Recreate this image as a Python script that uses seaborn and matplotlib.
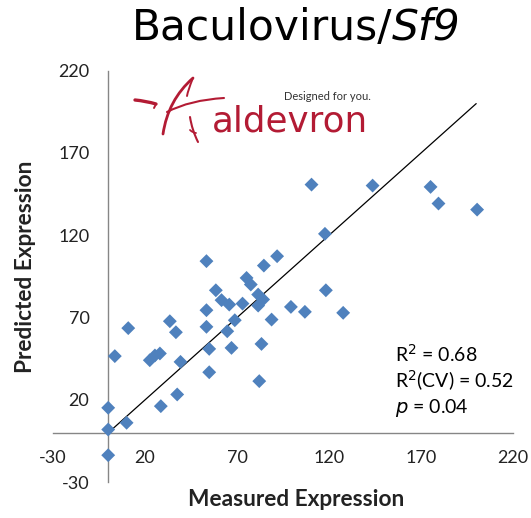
import numpy as np
import pandas as pd
import matplotlib
matplotlib.use("Agg")
import matplotlib.pyplot as plt
import seaborn as sns
from matplotlib.path import Path
from matplotlib.patches import PathPatch

# ---- data ----
measured = [110.5, 143.7, 175.2, 179.5, 200.5, 117.8, 53.4, 91.8, 84.6, 75.2,
            77.5, 58.5, 118.3, 81.5, 61.6, 65.8, 73.0, 84.2, 81.5, 53.4,
            99.3, 106.9, 127.7, 33.5, 68.8, 88.8, 10.9, 36.8, 53.4, 64.7,
            83.3, 54.9, 67.0, 3.6, 22.6, 25.4, 28.1, 39.3, 54.9, 82.1,
            37.5, 28.6, 0.0, 10.0, 0.0, 0.0]
predicted = [150.8, 150.2, 149.4, 139.3, 135.6, 120.9, 104.3, 107.3, 101.6, 94.1,
             90.1, 86.6, 86.6, 84.0, 80.6, 77.9, 78.5, 81.0, 77.3, 74.5,
             76.5, 73.5, 72.9, 67.8, 68.4, 68.8, 63.6, 61.1, 64.4, 61.7,
             54.0, 51.0, 51.6, 46.6, 44.1, 47.0, 48.2, 43.1, 36.8, 31.4,
             23.3, 16.2, 15.2, 6.1, 2.0, -13.6]
fit_x = [0, 200]
fit_y = [0, 200]
ticks = [-30, 20, 70, 120, 170, 220]
title_main = "Baculovirus/"
title_ital = "Sf9"
xlabel = "Measured Expression"
ylabel = "Predicted Expression"
stats = ["R$^2$ = 0.68", "R$^2$(CV) = 0.52", "$p$ = 0.04"]

df = pd.DataFrame({"Measured": measured, "Predicted": predicted})

W, H = 531, 518
sns.set_style("white")
plt.rcParams["font.family"] = ["Lato", "DejaVu Sans"]
fig = plt.figure(figsize=(W / 100, H / 100), dpi=100)

def fx(px):
    return px / W

def fy(py):
    return 1 - py / H

ax = fig.add_axes([fx(53), fy(482.2), (513 - 53) / W, (482.2 - 70.7) / H])
ax.set_facecolor("none")

gray = "#868686"
sns.scatterplot(data=df, x="Measured", y="Predicted", marker="D", s=50,
                color="#4F81BD", edgecolor="none", ax=ax, zorder=3, legend=False)
sns.lineplot(x=fit_x, y=fit_y, color="black", lw=0.9, ax=ax, zorder=2)

ax.set_xlim(-30, 220)
ax.set_ylim(-30, 220)
ax.set_xticks(ticks)
ax.set_yticks(ticks)
ax.set_xticklabels([str(t) for t in ticks])
ax.set_yticklabels([str(t) for t in ticks])
for s in ["top", "right"]:
    ax.spines[s].set_visible(False)
ax.spines["left"].set_position(("data", 0))
ax.spines["bottom"].set_position(("data", 0))
for s in ["left", "bottom"]:
    ax.spines[s].set_color(gray)
    ax.spines[s].set_linewidth(1.0)
ax.tick_params(axis="both", direction="out", length=4.5, width=1.0, color=gray,
               labelsize=13, labelcolor="#222222")
ax.tick_params(axis="y", pad=9)
ax.tick_params(axis="x", pad=8)
ax.set_xlabel("")
ax.set_ylabel("")

# axis labels
fig.text(fx(296), fy(500), xlabel, ha="center", va="center", fontsize=16.3,
         fontweight="bold", color="#222222")
fig.text(fx(26), fy(267), ylabel, ha="center", va="center", fontsize=16.3,
         fontweight="bold", color="#222222", rotation=90)

renderer = fig.canvas.get_renderer()

def fit_width(txt, target):
    w = txt.get_window_extent(renderer).width
    txt.set_fontsize(txt.get_fontsize() * target / w)

# title (centred on the reference's title centre)
tfam = ["DejaVu Sans"]
tsize = 30.5
t1 = fig.text(0, fy(28), title_main, ha="left", va="center", fontsize=tsize,
              color="black", family=tfam)
t2 = fig.text(0, fy(28), title_ital, ha="left", va="center", fontsize=tsize,
              color="black", style="italic", family=tfam)
w1 = t1.get_window_extent(renderer).width
w2 = t2.get_window_extent(renderer).width
x0 = 296 - (w1 + w2) / 2
t1.set_x(fx(x0))
t2.set_x(fx(x0 + w1))

# stats
for i, s in enumerate(stats):
    fig.text(fx(395), fy(354 + 27 * i), s, ha="left", va="center", fontsize=14,
             color="black")

# logo
red = "#B31B34"
lt = fig.text(fx(212), fy(132), "aldevron", ha="left", va="baseline", fontsize=24,
              color=red, family=["DejaVu Sans"])
fit_width(lt, 156)
dt = fig.text(fx(284), fy(100), "Designed for you.", ha="left", va="baseline",
              fontsize=8, color="#333333")
fit_width(dt, 87)
lax = fig.add_axes([0, 0, 1, 1])
lax.set_xlim(0, W)
lax.set_ylim(H, 0)
lax.axis("off")
lax.patch.set_alpha(0)
def curve(pts, lw):
    codes = [Path.MOVETO] + [Path.CURVE3] * (len(pts) - 1)
    lax.add_patch(PathPatch(Path(pts, codes), fill=False, lw=lw, ec=red,
                            capstyle="round"))
curve([(135, 100), (146, 101), (156, 104)], 2.4)
curve([(156, 104), (155, 106), (154, 108)], 1.4)
curve([(163, 134), (168, 100), (193, 78)], 2.0)
curve([(193, 78), (188, 90), (187, 96)], 1.4)
curve([(167, 112), (190, 100), (224, 98)], 1.5)
curve([(190, 117), (192, 130), (198, 142)], 1.5)
curve([(190, 130), (193, 133), (196, 133)], 1.3)

fig.savefig("out.png", dpi=100)
